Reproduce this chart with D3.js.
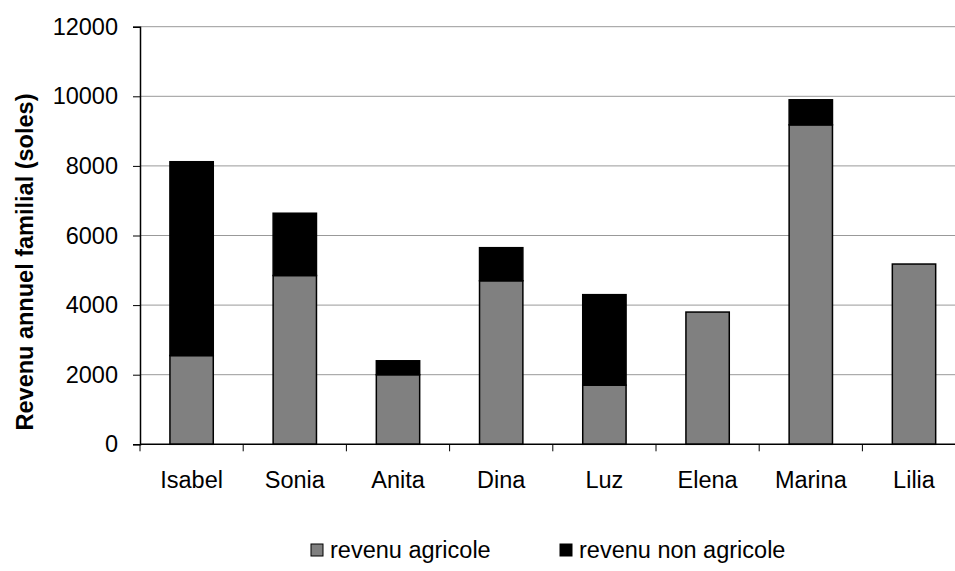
<!DOCTYPE html>
<html>
<head>
<meta charset="utf-8">
<script src="https://cdn.jsdelivr.net/npm/d3@7"></script>
<style>
  html, body { margin: 0; padding: 0; background: #fff; }
  svg { display: block; font-family: "Liberation Sans", Arial, sans-serif; }
</style>
</head>
<body>
<svg id="chart" width="955" height="571"></svg>
<script>
// Annual family income (soles), split into farm and non-farm income
const names = ["Isabel", "Sonia", "Anita", "Dina", "Luz", "Elena", "Marina", "Lilia"];
const agricole = [2550, 4850, 2000, 4700, 1700, 3800, 9180, 5180];
const nonAgricole = [5570, 1790, 400, 950, 2600, 0, 720, 0];
const yTicks = [0, 2000, 4000, 6000, 8000, 10000, 12000];
const seriesLabels = ["revenu agricole", "revenu non agricole"];
const seriesColors = ["#808080", "#000000"];

const fontSize = 23.5;
const svg = d3.select("#chart");
const plotLeft = 140, plotTop = 26.7, plotBottom = 444.3;
const step = 103.2;
const plotRight = plotLeft + step * names.length;

const x = d3.scaleBand()
  .domain(names)
  .range([plotLeft, plotRight])
  .paddingInner(0.58)
  .paddingOuter(0.29);

const y = d3.scaleLinear().domain([0, 12000]).range([plotBottom, plotTop]);

// horizontal gridlines
svg.append("g")
  .selectAll("line")
  .data(yTicks.slice(1))
  .join("line")
  .attr("x1", plotLeft).attr("x2", plotRight)
  .attr("y1", d => y(d)).attr("y2", d => y(d))
  .attr("stroke", "#999").attr("stroke-width", 1);

// stacked bars
const stack = d3.stack().keys([0, 1]).value((d, k) => d[k]);
const rows = names.map((n, i) => Object.assign([agricole[i], nonAgricole[i]], { name: n }));
const layers = stack(rows);

layers.forEach((layer, k) => {
  svg.append("g")
    .selectAll("rect")
    .data(layer.filter(d => d[1] > d[0]))
    .join("rect")
    .attr("x", d => x(d.data.name))
    .attr("width", x.bandwidth())
    .attr("y", d => y(d[1]))
    .attr("height", d => y(d[0]) - y(d[1]))
    .attr("fill", seriesColors[k])
    .attr("stroke", "#000")
    .attr("stroke-width", 1.5);
});

// y axis
const yAxis = svg.append("g")
  .attr("transform", `translate(${plotLeft},0)`)
  .call(d3.axisLeft(y).tickValues(yTicks).tickSize(7).tickPadding(15).tickFormat(d3.format("d")));
yAxis.select(".domain").attr("stroke", "#000").attr("stroke-width", 1.5);
yAxis.selectAll(".tick line").attr("stroke", "#000");
yAxis.selectAll("text").attr("font-size", fontSize).attr("fill", "#000")
  .attr("font-family", "Liberation Sans, Arial, sans-serif");

// x axis: ticks sit between categories
const xAxis = svg.append("g").attr("transform", `translate(0,${plotBottom})`);
xAxis.append("line")
  .attr("x1", plotLeft).attr("x2", plotRight)
  .attr("stroke", "#000").attr("stroke-width", 1.5);
xAxis.selectAll("line.sep")
  .data(d3.range(names.length + 1))
  .join("line")
  .attr("class", "sep")
  .attr("x1", i => plotLeft + i * step).attr("x2", i => plotLeft + i * step)
  .attr("y1", 0).attr("y2", 7)
  .attr("stroke", "#000");
xAxis.selectAll("text")
  .data(names)
  .join("text")
  .attr("x", d => x(d) + x.bandwidth() / 2)
  .attr("y", 44)
  .attr("text-anchor", "middle")
  .attr("font-size", fontSize)
  .attr("fill", "#000")
  .text(d => d);

// y axis title
svg.append("text")
  .attr("transform", "translate(33,262) rotate(-90)")
  .attr("text-anchor", "middle")
  .attr("font-size", fontSize)
  .attr("font-weight", "bold")
  .attr("fill", "#000")
  .text("Revenu annuel familial (soles)");

// legend
const legendX = [311, 560];
const legend = svg.append("g");
seriesLabels.forEach((lab, k) => {
  legend.append("rect")
    .attr("x", legendX[k]).attr("y", 544)
    .attr("width", 12).attr("height", 12)
    .attr("fill", seriesColors[k])
    .attr("stroke", "#000").attr("stroke-width", 1);
  legend.append("text")
    .attr("x", legendX[k] + 19).attr("y", 558)
    .attr("font-size", fontSize).attr("fill", "#000")
    .text(lab);
});
</script>
</body>
</html>
